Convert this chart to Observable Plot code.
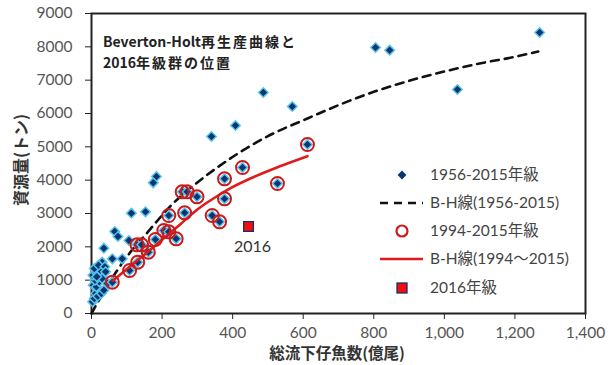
<!DOCTYPE html>
<html><head><meta charset="utf-8">
<script src="https://cdn.jsdelivr.net/npm/d3@7"></script>
<script src="https://cdn.jsdelivr.net/npm/@observablehq/plot@0.6"></script>
<style>
body{margin:0;background:#fff;}
#wrap{position:relative;width:614px;height:365px;font-family:"Noto Sans CJK JP","Noto Sans",sans-serif;}
#title{position:absolute;left:103px;top:31px;font-size:14px;font-weight:bold;color:#222;line-height:21px;}
#title .cj{letter-spacing:2px;}
#legend{position:absolute;left:0;top:0;pointer-events:none;}
</style></head>
<body><div id="wrap"><div id="title">Beverton-Holt<span class="cj">再生産曲線と</span><br>2016<span class="cj">年級群の位置</span></div></div>
<script>
// 1956-2015 year classes (all diamonds)
const allX = [1270, 1037, 805, 845, 487, 569, 408, 340, 184, 175, 113, 153, 66, 75, 35, 106, 59, 87, 30,
  3, 8, 12, 18, 28, 35, 5, 14, 22, 10, 30, 4, 16, 25, 8, 20, 38, 15, 40, 45,
  59, 108, 131, 129, 142, 161, 181, 205, 219, 240, 219, 264, 257, 271, 299, 342, 363, 377, 377, 428, 527, 612];
const allY = [8430, 6720, 7980, 7900, 6630, 6210, 5640, 5310, 4110, 3920, 3010, 3050, 2460, 2310, 1960, 2190, 1640, 1640, 1540,
  350, 450, 600, 520, 600, 700, 850, 800, 950, 1000, 1050, 1150, 1200, 1300, 1350, 1450, 1400, 1100, 1250, 900,
  940, 1290, 1540, 2060, 2060, 1840, 2220, 2490, 2450, 2240, 2940, 3020, 3650, 3650, 3500, 2940, 2750, 3440, 4040, 4380, 3900, 5070];
// 1994-2015 year classes (circled)
const recX = [59, 108, 131, 129, 142, 161, 181, 205, 219, 240, 219, 264, 257, 271, 299, 342, 363, 377, 377, 428, 527, 612];
const recY = [940, 1290, 1540, 2060, 2060, 1840, 2220, 2490, 2450, 2240, 2940, 3020, 3650, 3650, 3500, 2940, 2750, 3440, 4040, 4380, 3900, 5070];
// B-H curve 1956-2015
const bhAllX = [0, 50, 100, 160, 230, 300, 385, 430, 500, 612, 700, 800, 900, 1000, 1100, 1200, 1266];
const bhAllY = [0, 920, 1700, 2450, 3290, 3930, 4590, 4900, 5320, 5850, 6250, 6650, 6980, 7260, 7500, 7700, 7860];
// B-H curve 1994-2015
const bhRecX = [60, 110, 160, 210, 252, 300, 350, 394, 450, 530, 612];
const bhRecY = [980, 1420, 1850, 2300, 2680, 3120, 3480, 3760, 4050, 4400, 4720];
// 2016 year class
const y16X = [445];
const y16Y = [2610];
const y16Label = ["2016"];
const xTicks = [0, 200, 400, 600, 800, 1000, 1200, 1400];
const yTicks = [0, 1000, 2000, 3000, 4000, 5000, 6000, 7000, 8000, 9000];
const legendLabels = ["1956-2015年級", "B-H線(1956-2015)", "1994-2015年級", "B-H線(1994～2015)", "2016年級"];

const zip = (xs, ys) => xs.map((x, i) => ({x, y: ys[i]}));
const all = zip(allX, allY), rec = zip(recX, recY), bhA = zip(bhAllX, bhAllY), bhR = zip(bhRecX, bhRecY);
const y16 = y16X.map((x, i) => ({x, y: y16Y[i], t: y16Label[i]}));

const FONT = 'Lato,"Noto Sans CJK JP",sans-serif';
const navy = "#0a3570", halo = "#57c3ea", red = "#e01b1b";
const chart = Plot.plot({
  width: 614, height: 365,
  marginLeft: 91, marginRight: 29, marginTop: 13, marginBottom: 52,
  style: {fontFamily: FONT, fontSize: "15.5px", color: "#555", background: "transparent"},
  x: {domain: [0, 1400]},
  y: {domain: [0, 9000]},
  marks: [
    Plot.frame({stroke: "#222", strokeWidth: 2}),
    Plot.axisX({ticks: xTicks, tickFormat: d3.format(","), tickSize: 6, tickPadding: 7, label: null, stroke: "#222", fill: "#555"}),
    Plot.axisY({ticks: yTicks, tickFormat: d => String(d), tickSize: 6, tickPadding: 13, label: null, stroke: "#222", fill: "#555"}),
    Plot.line(bhA, {x: "x", y: "y", stroke: "#111", strokeWidth: 2.6, strokeDasharray: "8,6", curve: "monotone-x"}),
    Plot.dot(all, {x: "x", y: "y", symbol: "diamond2", r: 4.3, fill: navy, stroke: halo, strokeWidth: 1.5}),
    Plot.line(bhR, {x: "x", y: "y", stroke: red, strokeWidth: 2.6, curve: "monotone-x"}),
    Plot.dot(rec, {x: "x", y: "y", r: 6.5, fill: "none", stroke: "#cc1a1a", strokeWidth: 2}),
    Plot.dot(y16, {x: "x", y: "y", symbol: "square", r: 5.5, fill: "#f01010", stroke: "#1b2f6e", strokeWidth: 1.3}),
    Plot.text(y16, {x: "x", y: "y", text: "t", dy: 20, dx: 4, fontSize: 16, fill: "#333"})
  ]
});
const wrap = document.getElementById("wrap");
wrap.insertBefore(chart, wrap.firstChild);

// axis titles
const svg = d3.select(chart);
svg.append("text").attr("x", 337).attr("y", 359).attr("text-anchor", "middle").attr("font-family", '"Noto Sans CJK JP",sans-serif')
  .attr("font-size", 15.5).attr("font-weight", "bold").attr("fill", "#333").text("総流下仔魚数(億尾)");
svg.append("text").attr("transform", "translate(27,160) rotate(-90)").attr("text-anchor", "middle").attr("font-family", '"Noto Sans CJK JP",sans-serif')
  .attr("font-size", 16).attr("font-weight", "bold").attr("fill", "#333").text("資源量(トン)");

// legend
const lg = d3.select(wrap).append("svg").attr("id", "legend").attr("width", 614).attr("height", 365);
const rows = [175, 203, 231, 259, 288];
const g = lg.append("g").attr("font-family", FONT).attr("font-size", 15.5).attr("fill", "#444");
legendLabels.forEach((t, i) => g.append("text").attr("x", 430).attr("y", rows[i]).attr("dy", "0.35em").text(t));
g.append("path").attr("d", d3.symbol(d3.symbolDiamond2, 50)()).attr("transform", `translate(402,${rows[0]})`).attr("fill", navy);
g.append("line").attr("x1", 380).attr("x2", 423).attr("y1", rows[1]).attr("y2", rows[1]).attr("stroke", "#111").attr("stroke-width", 2.6).attr("stroke-dasharray", "8,6");
g.append("circle").attr("cx", 402).attr("cy", rows[2]).attr("r", 5.5).attr("fill", "none").attr("stroke", "#cc1a1a").attr("stroke-width", 2.2);
g.append("line").attr("x1", 380).attr("x2", 423).attr("y1", rows[3]).attr("y2", rows[3]).attr("stroke", red).attr("stroke-width", 2.6);
g.append("rect").attr("x", 397).attr("y", rows[4] - 5).attr("width", 10).attr("height", 10).attr("fill", "#f01010").attr("stroke", "#1b2f6e").attr("stroke-width", 1.3);
</script>
</body></html>
